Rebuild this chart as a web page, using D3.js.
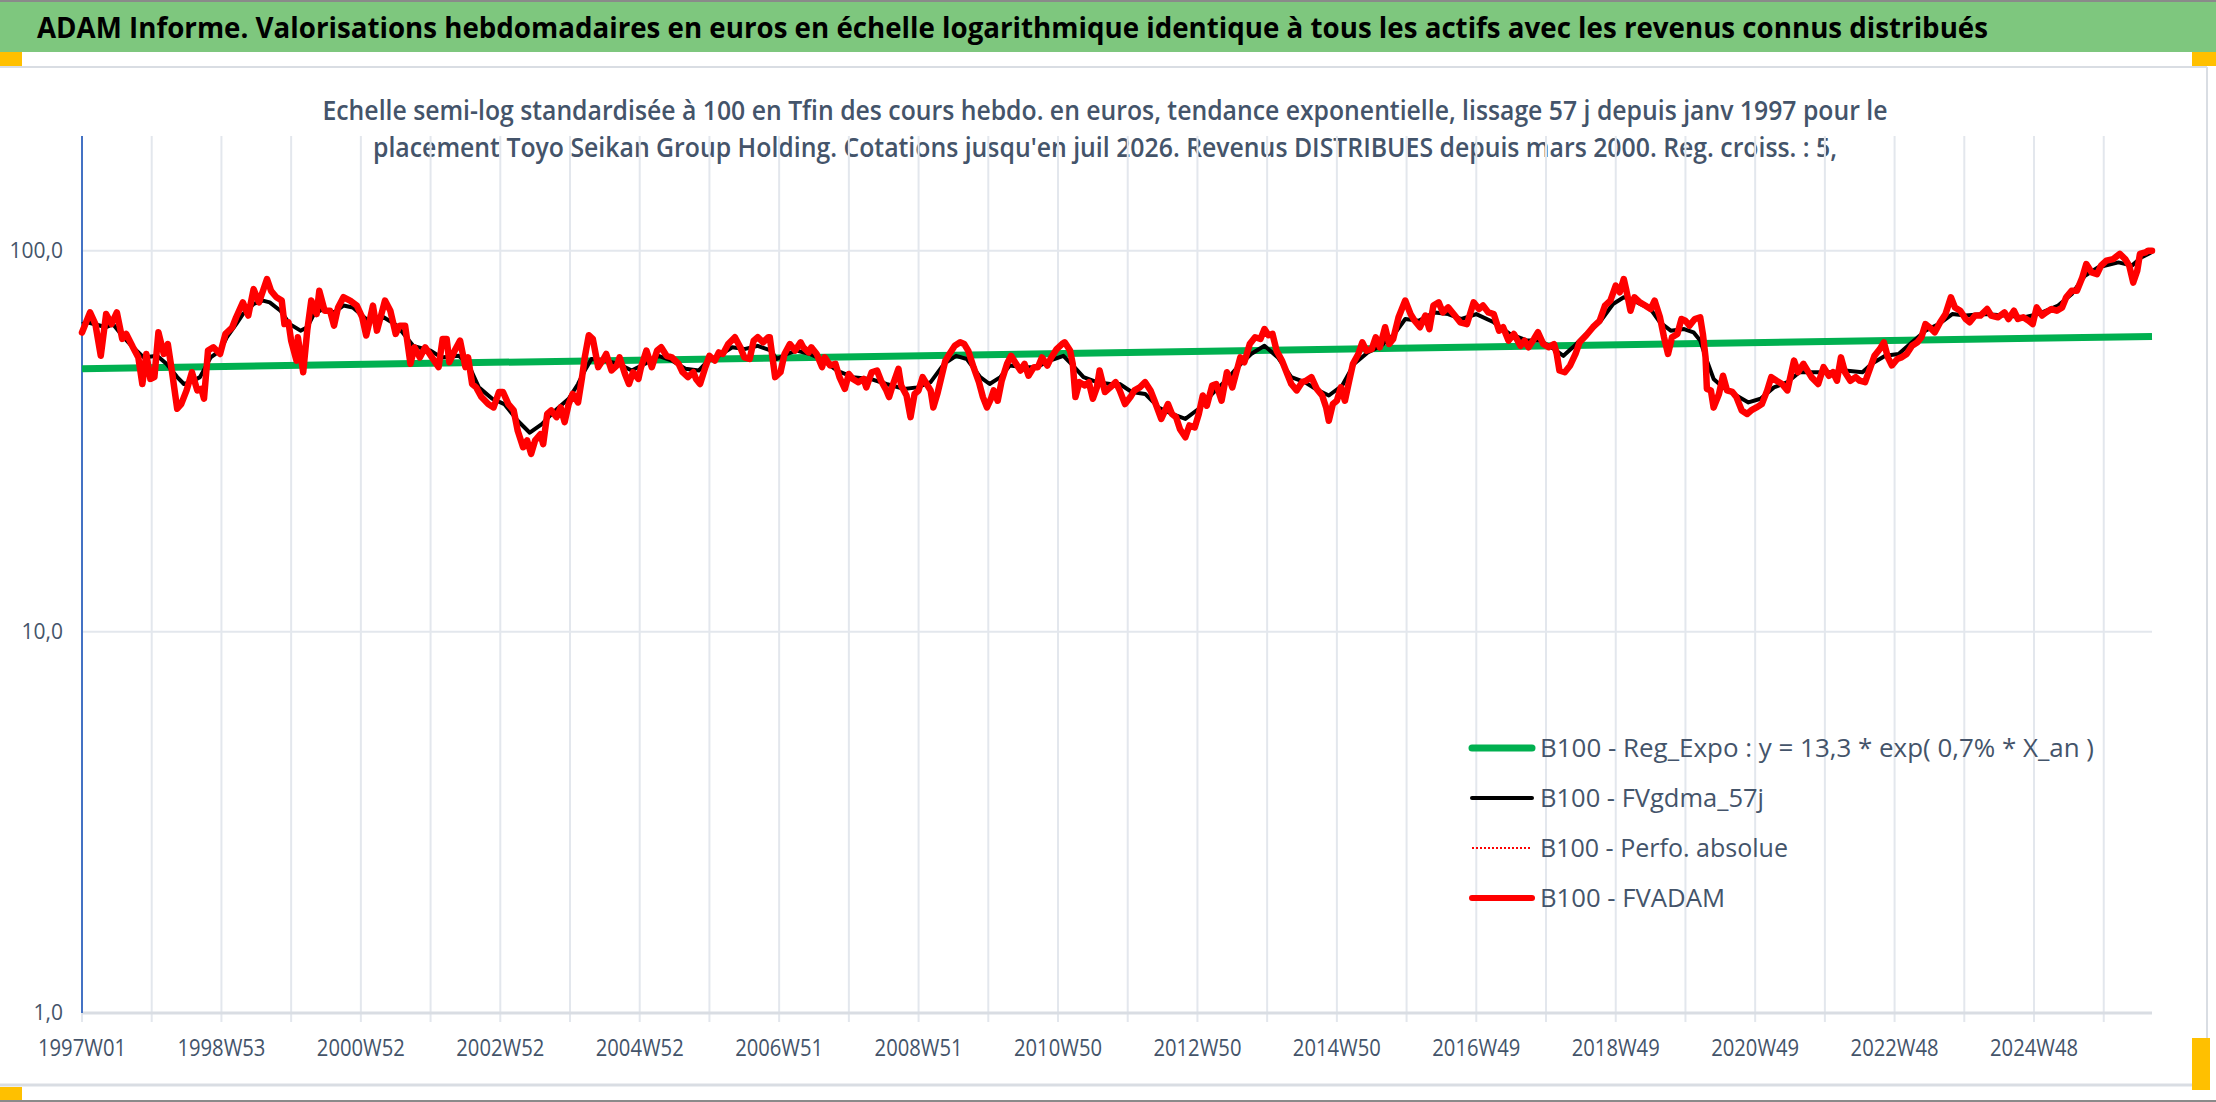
<!DOCTYPE html>
<html>
<head>
<meta charset="utf-8">
<script src="https://cdn.jsdelivr.net/npm/d3@7/dist/d3.min.js"></script>
<style>
  html, body { margin: 0; padding: 0; background: #ffffff; }
  svg { display: block; }
  text { font-family: "Liberation Sans Narrow", "Open Sans", sans-serif; }
</style>
</head>
<body>
<svg id="chart"></svg>
<script>
var W = 2216, H = 1102;

// ---- data (weekly index since 1997W01, values base 100) ----
var titleText = "ADAM Informe. Valorisations hebdomadaires en euros en échelle logarithmique identique à tous les actifs avec les revenus connus distribués";
var subtitleLines = [
    "Echelle semi-log standardisée à 100 en Tfin des cours hebdo. en euros, tendance exponentielle, lissage 57 j depuis janv 1997 pour le",
    "placement Toyo Seikan Group Holding. Cotations jusqu'en juil 2026. Revenus DISTRIBUES depuis mars 2000. Reg. croiss. : 5,"
];
var tickWeeks = [0, 104, 208, 312, 416, 520, 624, 728, 832, 936, 1040, 1144, 1248, 1352, 1456];
var tickLabels = ["1997W01", "1998W53", "2000W52", "2002W52", "2004W52", "2006W51", "2008W51", "2010W50",
    "2012W50", "2014W50", "2016W49", "2018W49", "2020W49", "2022W48", "2024W48"];
var yTicks = [1, 10, 100];
var yTickLabels = ["1,0", "10,0", "100,0"];
var lastWeek = 1544;

var legendLabels = [
    "B100 - Reg_Expo : y = 13,3 * exp( 0,7% *  X_an )",
    "B100 - FVgdma_57j",
    "B100 - Perfo. absolue",
    "B100 - FVADAM"
];

var regWeeks = [0, 1544];
var regValues = [49.0, 59.6];

var fvadamWeeks = [0, 6, 10, 14, 18, 22, 26, 30, 33, 38, 42, 45, 48, 51, 54, 57, 61, 64, 67, 71, 74, 78, 82, 86, 89, 91, 94, 98,
    103, 107, 112, 115, 120, 124, 128, 132, 135, 138, 141, 145, 149, 151, 154, 156, 160, 161, 165, 168, 171, 175, 177,
    181, 185, 188, 191, 195, 200, 205, 209, 212, 214, 217, 220, 222, 226, 230, 234, 237, 241, 245, 248, 252, 256,
    261, 266, 269, 272, 274, 278, 282, 286, 288, 291, 294, 298, 303, 307, 311, 314, 318, 322, 325, 329, 332, 335, 338,
    342, 344, 347, 350, 354, 357, 360, 363, 366, 370, 373, 375, 378, 381, 385, 389, 391, 395, 399, 401, 405, 408, 411,
    415, 417, 421, 425, 429, 432, 436, 440, 445, 448, 452, 456, 458, 461, 465, 468, 472, 475, 478, 482, 487, 491, 494,
    498, 501, 504, 508, 512,
    513, 517, 521, 524, 528, 532, 536, 538, 542, 544, 548, 552, 554, 558, 562, 565, 569, 572, 575, 579, 583, 585, 589,
    593, 596, 600, 602, 605, 609, 611, 615, 618, 621, 624, 627, 630, 633, 635, 638, 641, 644, 647, 651, 655, 658, 661,
    665, 669, 672, 675, 678, 680, 683, 686, 690, 693, 696, 700, 703, 706, 710, 713, 716, 720, 723, 727, 731, 733, 737,
    739, 741, 744, 748, 751, 754, 757, 759, 763, 767, 771,
    774, 778, 782, 785, 789, 793, 797, 800, 805, 810, 813, 816, 819, 823, 826, 830, 833, 836, 839, 843, 846, 850, 854,
    858, 861, 864, 867, 871, 875, 879, 882, 885, 888, 891, 895, 899, 902, 906, 910, 913, 917, 921, 925, 928, 930, 933,
    936, 939, 942, 945, 948, 952, 955, 958, 962, 965, 968, 972, 975, 978, 982, 987, 991, 994, 998, 1002, 1005, 1008,
    1012, 1015, 1019, 1024, 1028,
    1033, 1038, 1042, 1045, 1049, 1053, 1057, 1060, 1064, 1068, 1073, 1076, 1079, 1083, 1086, 1090, 1094, 1098, 1100,
    1102, 1106, 1110, 1114, 1117, 1122, 1127, 1132, 1136, 1140, 1144, 1147, 1150, 1152, 1155, 1158, 1162, 1166, 1170,
    1173, 1177, 1180, 1183, 1186, 1190, 1193, 1196, 1199, 1203, 1207, 1209, 1211, 1212, 1215, 1217, 1221, 1224, 1227,
    1231, 1234, 1238, 1242, 1245, 1249, 1253, 1257, 1260, 1264, 1268, 1272, 1277, 1280, 1284,
    1290, 1295, 1299, 1303, 1306, 1309, 1312, 1315, 1319, 1323, 1326, 1330, 1334, 1337, 1341, 1344, 1347, 1350, 1354,
    1357, 1361, 1365, 1369, 1372, 1375, 1378, 1382, 1386, 1390, 1394, 1397, 1401, 1405, 1408, 1412, 1416, 1421, 1424,
    1429, 1434, 1437, 1441, 1444, 1448, 1452, 1455, 1458, 1462, 1465, 1469, 1473, 1477, 1480, 1484, 1488, 1492, 1495,
    1499, 1503, 1506, 1510, 1515, 1520, 1524, 1527, 1530, 1533, 1535, 1539, 1541, 1544];
var fvadamValues = [61.0, 68.9, 64.2, 53.0, 68.2, 64.2, 68.9, 58.7, 60.5, 55.8, 52.5, 44.7, 53.6, 46.1, 46.6, 61.1, 53.6, 56.9,
    48.5, 38.5, 39.6, 43.0, 48.0, 43.0, 43.4, 40.9, 54.7, 55.8,
    53.6, 60.5, 62.9, 66.9, 73.2, 67.6, 79.3, 73.2, 78.5, 84.3, 78.5, 75.5, 74.0, 64.2, 64.9, 58.1, 51.5, 59.3, 48.0,
    61.7, 74.0, 68.2, 78.5,
    69.6, 69.6, 63.6, 71.0, 75.5, 74.0, 71.8, 66.9, 59.9, 64.2, 71.8, 61.7, 65.5, 74.0, 69.6, 60.5, 63.6, 63.6, 50.5,
    55.8, 52.5, 55.8,
    52.5, 49.5, 58.7, 58.7, 51.0, 54.7, 58.1, 49.5, 52.5, 44.7, 43.8, 41.3, 39.6, 38.8, 42.6, 42.6, 39.6, 38.1, 33.7,
    30.5, 31.8, 29.3, 31.8,
    33.0, 31.1, 37.3, 38.1, 36.6, 38.8, 35.5, 39.6, 42.1, 40.0, 46.6, 52.5, 60.0, 58.7, 49.5, 52.0, 53.6, 48.5, 50.0,
    52.5, 47.5, 44.7, 48.0,
    46.1, 49.5, 54.7, 49.5, 54.7, 55.8, 53.0, 52.5, 50.5, 48.0, 46.6, 48.0, 46.1, 44.7, 49.5, 53.0, 51.5, 54.1, 53.6,
    56.9, 59.3, 55.8, 52.5,
    52.0, 58.1, 59.3, 57.5, 59.3,
    59.3, 46.6, 48.0, 53.6, 56.9, 54.7, 57.5, 55.8, 54.1, 55.8, 53.6, 49.5, 52.5, 50.0, 50.5, 46.6, 43.4, 47.5, 46.1,
    45.2, 46.1, 43.8, 48.0,
    48.5, 45.6, 43.0, 41.3, 44.7, 49.0, 44.3, 41.7, 36.6, 42.1, 43.0, 46.6, 44.7, 43.0, 38.8, 42.1, 46.6, 51.5, 53.6,
    56.3, 57.5, 56.9, 54.7,
    49.5, 45.2, 41.3, 38.8, 40.9, 43.0, 40.4, 45.6, 50.5, 53.0, 51.0, 48.5, 50.5, 47.0, 49.5, 49.5, 52.5, 50.0, 52.5,
    55.2, 56.9, 57.5, 54.7,
    50.5, 41.3, 45.2, 44.3, 45.2, 40.9, 43.8, 48.5, 42.6, 43.8, 45.2,
    43.0, 39.6, 41.3, 43.0, 43.8, 45.2, 43.0, 40.4, 36.2, 39.6, 37.3, 36.6, 34.0, 32.4, 34.8, 34.4, 37.3, 41.7, 39.2,
    44.3, 44.7, 40.4, 48.0,
    43.8, 48.0, 52.5, 51.0, 56.9, 59.3, 58.7, 62.3, 60.0, 60.5, 54.7, 51.5, 47.5, 44.7, 43.0, 45.2, 45.6, 46.6, 43.4,
    41.7, 38.8, 35.8, 39.6,
    40.4, 43.8, 40.4, 45.2, 50.5, 53.6, 57.5, 54.7, 55.2, 59.3, 55.8, 63.0, 56.9, 58.7, 66.9, 74.0, 68.2, 65.5, 63.0,
    67.6, 62.3, 71.8,
    73.2, 68.9, 71.0, 67.6, 64.9,
    64.2, 73.2, 70.3, 71.8, 68.9, 68.2, 61.7, 63.0, 58.1, 60.5, 56.3, 58.1, 55.8, 58.7, 61.1, 56.9, 55.8, 56.9, 53.6,
    48.5, 48.0, 50.0, 53.6, 57.5, 60.0, 63.0, 65.5, 71.8, 74.0, 81.0, 77.8, 84.3, 78.5, 69.6, 75.5, 73.2, 71.8, 70.3,
    74.0, 66.9, 59.3, 53.6, 59.3, 60.5, 66.2, 65.5, 63.6, 66.2, 66.9, 60.5, 52.5, 43.4, 43.0, 38.8, 42.1, 47.0, 43.0,
    42.6, 41.3, 38.1, 37.3, 38.1, 38.8, 39.6, 43.0, 46.6, 45.6, 44.7, 43.0, 51.5, 48.0, 50.5,
    46.6, 44.7, 49.5, 47.0, 48.0, 45.6, 52.5, 48.0, 45.6, 46.6, 45.6, 45.2, 49.5, 53.0, 55.2, 57.5, 52.5, 50.0, 52.0,
    52.5, 53.6, 56.3, 57.5, 59.3, 64.2, 63.0, 61.1, 64.9, 68.2, 75.5, 71.0, 69.6, 66.2, 64.9, 67.6, 67.6, 70.3, 67.6,
    66.9, 68.9, 66.2, 69.6, 66.2, 66.9, 65.5, 64.2, 71.0, 67.6, 68.9, 70.3, 69.6, 71.0, 75.5, 78.5, 78.5, 85.1, 92.3,
    87.7, 86.8, 91.4, 94.2, 95.1, 98.1, 95.1, 91.4, 82.5, 88.6, 98.1, 99.0, 100, 100];

var gdmaWeeks = [0, 4, 18, 23, 31, 38, 46, 56, 63, 71, 76, 83, 88, 96, 103, 108, 115, 120, 128, 135, 140, 148, 155, 163, 168,
    173, 180, 188, 195, 202, 212, 217, 225, 235, 240, 247, 260, 268, 281, 288, 296, 306, 315, 325, 334, 343, 353, 363,
    370, 375, 380, 390, 400, 410, 420, 430, 440, 450, 460, 467, 475, 485, 494, 504, 514, 518, 526, 533, 543, 553, 563,
    575, 588, 600, 613, 623, 633, 643, 652, 660, 670, 677, 685, 692, 702, 712, 722, 732, 739, 747, 757, 767, 774, 783,
    793, 803, 813, 823, 833, 843, 853, 862, 872, 882, 892, 902, 912, 922, 930, 940, 949, 959, 969, 979, 987, 997, 1009,
    1019, 1029, 1040, 1053, 1065, 1078, 1088, 1098, 1105, 1112, 1122, 1132, 1142, 1150, 1160, 1170, 1177, 1185, 1195,
    1202, 1207, 1212, 1217, 1224, 1234, 1243, 1252, 1262, 1272, 1281, 1289, 1295, 1305, 1315, 1328, 1335, 1345, 1355,
    1365, 1375, 1385, 1395, 1405, 1419, 1434, 1449, 1459, 1474, 1484, 1494, 1504, 1519, 1529, 1536, 1544];
var gdmaValues = [64.2, 64.9, 63.0, 64.2, 59.3, 55.8, 52.5, 53.0, 50.5, 46.6, 44.7, 45.6, 46.6, 52.5, 54.7, 59.3, 64.2, 68.2,
    72.5, 74.0, 73.2, 69.6, 64.2, 61.7, 63.0, 68.2, 70.3, 68.9, 71.8, 71.0, 66.2, 65.5, 66.9, 63.6, 60.5, 56.3, 54.7,
    52.5, 53.0, 50.5, 43.8, 40.9, 39.6, 35.8, 33.3, 35.1, 38.1, 40.9, 44.7, 48.5, 52.0, 51.5, 50.5, 48.5, 50.5, 53.0,
    51.5, 49.0, 48.5, 51.5, 53.0, 55.8, 55.2, 56.3, 54.7, 52.0, 53.6, 54.7, 53.6, 51.5, 48.5, 46.6, 46.1, 44.7, 43.4,
    43.8, 45.2, 50.5, 53.0, 52.0, 46.6, 44.7, 46.6, 50.0, 49.5, 49.5, 51.5, 53.0, 50.0, 46.6, 45.2, 44.7, 44.7, 42.6,
    42.1, 38.8, 37.3, 36.2, 38.5, 42.1, 45.6, 49.5, 53.6, 56.3, 52.5, 46.6, 45.2, 43.0, 41.7, 44.3, 50.5, 54.1, 56.3,
    60.5, 66.2, 65.5, 68.9, 68.2, 66.2, 68.2, 64.9, 60.5, 58.1, 58.1, 55.2, 53.0, 55.8, 60.5, 64.9, 72.5, 75.5, 73.2,
    70.3, 64.9, 61.7, 62.3, 61.1, 58.1, 51.5, 46.1, 43.8, 41.7, 40.0, 40.9, 43.8, 45.2, 48.0, 48.0, 48.0, 48.0, 48.5,
    48.0, 50.5, 53.0, 53.6, 57.5, 61.7, 64.2, 68.2, 67.6, 68.2, 67.6, 66.9, 68.2, 71.8, 76.9, 86.0, 90.5, 93.2, 91.4,
    96.0, 99.2];

// ---- layout ----
var plotLeft = 82, plotRight = 2152, plotTop = 136, plotBottom = 1013;
var GRID = "#e3e7ed";

var svg = d3.select("#chart").attr("width", W).attr("height", H);

var x = d3.scaleLinear().domain([0, lastWeek]).range([plotLeft, plotRight]);
var y = d3.scaleLog().domain([1, 200]).range([plotBottom, plotTop]);

// frame
svg.append("rect").attr("x", 0).attr("y", 0).attr("width", W).attr("height", H).attr("fill", "#ffffff");
svg.append("rect").attr("x", 0).attr("y", 2).attr("width", W).attr("height", 50).attr("fill", "#7ec77e");
svg.append("rect").attr("x", 0).attr("y", 0).attr("width", W).attr("height", 2).attr("fill", "#8a8a8a");
svg.append("line").attr("x1", 0).attr("x2", 2207).attr("y1", 67).attr("y2", 67)
    .attr("stroke", "#d9dde3").attr("stroke-width", 2);
svg.append("line").attr("x1", 0).attr("x2", 2207).attr("y1", 1085).attr("y2", 1085)
    .attr("stroke", "#d9dde3").attr("stroke-width", 3);
svg.append("line").attr("x1", 2207).attr("x2", 2207).attr("y1", 67).attr("y2", 1085)
    .attr("stroke", "#d9dde3").attr("stroke-width", 2);
svg.append("rect").attr("x", 0).attr("y", 52).attr("width", 22).attr("height", 14).attr("fill", "#ffc000");
svg.append("rect").attr("x", 2192).attr("y", 52).attr("width", 24).attr("height", 14).attr("fill", "#ffc000");
svg.append("rect").attr("x", 2192).attr("y", 1038).attr("width", 18).attr("height", 52).attr("fill", "#ffc000");
svg.append("rect").attr("x", 0).attr("y", 1087).attr("width", 22).attr("height", 13).attr("fill", "#ffc000");
svg.append("rect").attr("x", 0).attr("y", 1100).attr("width", W).attr("height", 2).attr("fill", "#8a8a8a");

// title
svg.append("text").attr("x", 37).attr("y", 38)
    .attr("font-size", 29).attr("font-weight", "bold").attr("fill", "#000000")
    .attr("textLength", 1951).attr("lengthAdjust", "spacingAndGlyphs")
    .text(titleText);

// subtitle
var subLens = [1565, 1464];
subtitleLines.forEach(function (s, i) {
    svg.append("text").attr("x", 1105).attr("y", 120 + i * 37)
        .attr("text-anchor", "middle")
        .attr("font-size", 27).attr("font-weight", 600).attr("fill", "#44546a")
        .attr("textLength", subLens[i]).attr("lengthAdjust", "spacingAndGlyphs")
        .text(s);
});

// vertical grid + ticks
var gridWeeks = d3.range(52, lastWeek, 52);
svg.append("g").selectAll("line").data(gridWeeks).enter().append("line")
    .attr("x1", function (d) { return x(d); }).attr("x2", function (d) { return x(d); })
    .attr("y1", plotTop).attr("y2", plotBottom + 9)
    .attr("stroke", GRID).attr("stroke-width", 2);
svg.append("line").attr("x1", plotLeft).attr("x2", plotLeft)
    .attr("y1", plotBottom).attr("y2", plotBottom + 9)
    .attr("stroke", GRID).attr("stroke-width", 2);

// horizontal grid
svg.append("g").selectAll("line").data([10, 100]).enter().append("line")
    .attr("x1", plotLeft).attr("x2", plotRight)
    .attr("y1", function (d) { return y(d); }).attr("y2", function (d) { return y(d); })
    .attr("stroke", GRID).attr("stroke-width", 2);

// bottom axis line
svg.append("line").attr("x1", plotLeft).attr("x2", plotRight)
    .attr("y1", plotBottom).attr("y2", plotBottom)
    .attr("stroke", "#d9dde3").attr("stroke-width", 3);

// left axis (blue)
svg.append("line").attr("x1", plotLeft).attr("x2", plotLeft)
    .attr("y1", plotTop).attr("y2", plotBottom)
    .attr("stroke", "#4472c4").attr("stroke-width", 2);

// x labels
svg.append("g").selectAll("text").data(tickWeeks).enter().append("text")
    .attr("x", function (d) { return x(d); }).attr("y", 1056)
    .attr("text-anchor", "middle").attr("font-size", 24).attr("fill", "#44546a")
    .attr("textLength", 88).attr("lengthAdjust", "spacingAndGlyphs")
    .text(function (d, i) { return tickLabels[i]; });

// y labels
svg.append("g").selectAll("text").data(yTicks).enter().append("text")
    .attr("x", 63).attr("y", function (d) { return y(d) + 7; })
    .attr("text-anchor", "end").attr("font-size", 21).attr("fill", "#44546a")
    .text(function (d, i) { return yTickLabels[i]; });

// series
function series(weeks, values) {
    return weeks.map(function (w, i) { return [w, values[i]]; });
}
var line = d3.line()
    .x(function (d) { return x(d[0]); })
    .y(function (d) { return y(d[1]); });

svg.append("path").datum(series(regWeeks, regValues)).attr("d", line)
    .attr("fill", "none").attr("stroke", "#00b050").attr("stroke-width", 7);
svg.append("path").datum(series(gdmaWeeks, gdmaValues)).attr("d", line)
    .attr("fill", "none").attr("stroke", "#000000").attr("stroke-width", 4)
    .attr("stroke-linejoin", "round");
svg.append("path").datum(series(fvadamWeeks, fvadamValues)).attr("d", line)
    .attr("fill", "none").attr("stroke", "#ff0000").attr("stroke-width", 2)
    .attr("stroke-dasharray", "2,3");
svg.append("path").datum(series(fvadamWeeks, fvadamValues)).attr("d", line)
    .attr("fill", "none").attr("stroke", "#ff0000").attr("stroke-width", 6.5)
    .attr("stroke-linejoin", "round").attr("stroke-linecap", "round");

// legend
var legStyles = [
    { color: "#00b050", width: 7, dash: null },
    { color: "#000000", width: 4, dash: null },
    { color: "#ff0000", width: 2, dash: "2,2" },
    { color: "#ff0000", width: 6, dash: null }
];
var legLens = [554, 224, 248, 185];
var leg = svg.append("g");
legendLabels.forEach(function (lab, i) {
    var ly = 748 + i * 50;
    var st = legStyles[i];
    var ln = leg.append("line").attr("x1", 1472).attr("x2", 1532).attr("y1", ly).attr("y2", ly)
        .attr("stroke", st.color).attr("stroke-width", st.width).attr("stroke-linecap", st.dash ? "butt" : "round");
    if (st.dash) ln.attr("stroke-dasharray", st.dash);
    leg.append("text").attr("x", 1540).attr("y", ly + 9)
        .attr("font-size", 26).attr("fill", "#44546a")
        .attr("textLength", legLens[i]).attr("lengthAdjust", "spacingAndGlyphs")
        .text(lab);
});
</script>
</body>
</html>
